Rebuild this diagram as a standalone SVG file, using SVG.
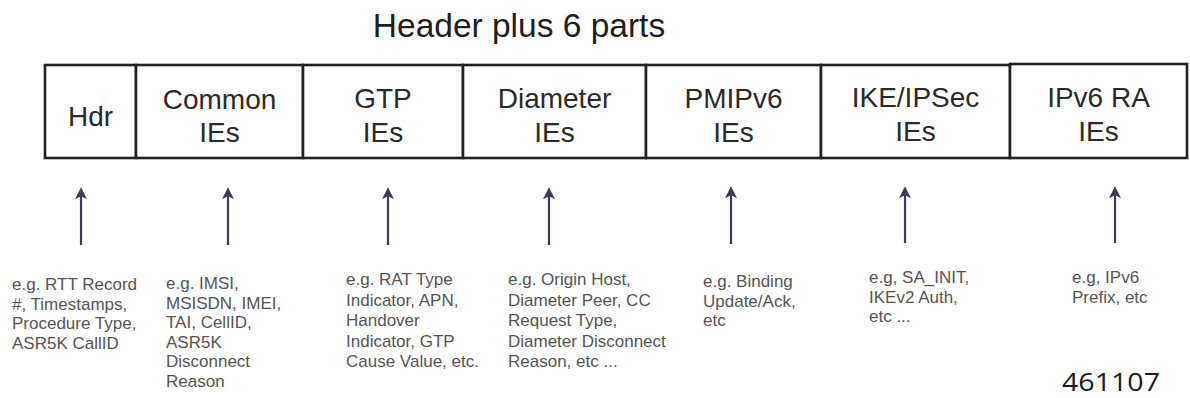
<svg xmlns="http://www.w3.org/2000/svg" width="1190" height="398" viewBox="0 0 1190 398">
<style>
.cell{fill:#fff;stroke:#222;stroke-width:2.6}
.lbl{font-family:"Liberation Sans",Arial,sans-serif;font-size:28px;fill:#2a2a2a;text-anchor:middle}
.title{font-family:"Liberation Sans",Arial,sans-serif;font-size:33.5px;fill:#1e1e1e;text-anchor:middle}
.desc{font-family:"Liberation Sans",Arial,sans-serif;font-size:17px;fill:#555}
.arr{stroke:#3c3f52;stroke-width:2.2;fill:none;marker-end:url(#ah)}
.num{font-family:"Open Sans","Liberation Sans",sans-serif;font-size:25px;fill:#1a1a1a}
</style>
<defs>
<marker id="ah" viewBox="0 0 10 10" refX="6" refY="5" markerWidth="5.5" markerHeight="5.5" orient="auto" markerUnits="strokeWidth">
<path d="M0,0 L10,5 L0,10 L2.5,5 z" fill="#3c3f52"/>
</marker>
</defs>
<rect width="1190" height="398" fill="#fff"/>
<text class="title" x="519" y="37">Header plus 6 parts</text>

<g id="hdr">
<rect class="cell" x="45" y="65" width="91" height="93"/>
<text class="lbl" x="90.5" y="126">Hdr</text>
</g>
<g id="common">
<rect class="cell" x="136" y="65" width="167" height="93"/>
<text class="lbl" x="219.5" y="109">Common</text>
<text class="lbl" x="219.5" y="142">IEs</text>
</g>
<g id="gtp">
<rect class="cell" x="303" y="65" width="160" height="93"/>
<text class="lbl" x="383" y="108">GTP</text>
<text class="lbl" x="383" y="142">IEs</text>
</g>
<g id="diameter">
<rect class="cell" x="463" y="65" width="183" height="93"/>
<text class="lbl" x="554.5" y="108">Diameter</text>
<text class="lbl" x="554.5" y="142">IEs</text>
</g>
<g id="pmipv6">
<rect class="cell" x="646" y="65" width="175" height="93"/>
<text class="lbl" x="733.5" y="108">PMIPv6</text>
<text class="lbl" x="733.5" y="142">IEs</text>
</g>
<g id="ikeipsec">
<rect class="cell" x="821" y="65" width="189" height="93"/>
<text class="lbl" x="915.5" y="107">IKE/IPSec</text>
<text class="lbl" x="915.5" y="141">IEs</text>
</g>
<g id="ipv6ra">
<rect class="cell" x="1010" y="64" width="177" height="94"/>
<text class="lbl" x="1098.5" y="107">IPv6 RA</text>
<text class="lbl" x="1098.5" y="141">IEs</text>
</g>

<g id="connectors">
<line class="arr" x1="81" y1="245" x2="81" y2="192"/>
<line class="arr" x1="228" y1="245" x2="228" y2="192"/>
<line class="arr" x1="388" y1="245" x2="388" y2="192"/>
<line class="arr" x1="549" y1="245" x2="549" y2="192"/>
<line class="arr" x1="731" y1="244" x2="731" y2="191"/>
<line class="arr" x1="905" y1="243" x2="905" y2="191"/>
<line class="arr" x1="1115" y1="243" x2="1115" y2="191"/>
</g>

<g id="desc-hdr" class="desc">
<text x="12" y="290">e.g. RTT Record</text>
<text x="12" y="309.5">#, Timestamps,</text>
<text x="12" y="329">Procedure Type,</text>
<text x="12" y="348.5">ASR5K CallID</text>
</g>
<g id="desc-common" class="desc">
<text x="166" y="289">e.g. IMSI,</text>
<text x="166" y="308.5">MSISDN, IMEI,</text>
<text x="166" y="328">TAI, CellID,</text>
<text x="166" y="347.5">ASR5K</text>
<text x="166" y="367">Disconnect</text>
<text x="166" y="386.5">Reason</text>
</g>
<g id="desc-gtp" class="desc">
<text x="346" y="285">e.g. RAT Type</text>
<text x="346" y="305.5">Indicator, APN,</text>
<text x="346" y="326">Handover</text>
<text x="346" y="346.5">Indicator, GTP</text>
<text x="346" y="367">Cause Value, etc.</text>
</g>
<g id="desc-diameter" class="desc">
<text x="508" y="285">e.g. Origin Host,</text>
<text x="508" y="305.5">Diameter Peer, CC</text>
<text x="508" y="326">Request Type,</text>
<text x="508" y="346.5">Diameter Disconnect</text>
<text x="508" y="367">Reason, etc ...</text>
</g>
<g id="desc-pmipv6" class="desc">
<text x="703" y="287">e.g. Binding</text>
<text x="703" y="306.5">Update/Ack,</text>
<text x="703" y="326">etc</text>
</g>
<g id="desc-ike" class="desc">
<text x="869" y="283">e.g, SA_INIT,</text>
<text x="869" y="302.5">IKEv2 Auth,</text>
<text x="869" y="322">etc ...</text>
</g>
<g id="desc-ipv6ra" class="desc">
<text x="1072" y="283">e.g, IPv6</text>
<text x="1072" y="302.5">Prefix, etc</text>
</g>

<text class="num" x="1062" y="391" textLength="98" lengthAdjust="spacingAndGlyphs">461107</text>
</svg>
